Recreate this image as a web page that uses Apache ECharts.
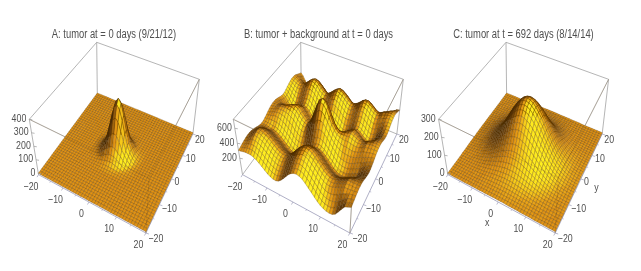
<!DOCTYPE html>
<html><head><meta charset="utf-8">
<style>html,body{margin:0;padding:0;background:#fff}#c{width:641px;height:271px}</style>
<script src="https://cdn.jsdelivr.net/npm/echarts@6/dist/echarts.min.js"></script>
</head><body><div id="c"></div>
<script>
const xyTicks=[-20,-10,0,10,20];
const xyMinorTicks=[-15,-5,5,15];
const zTicksA=[0,100,200,300,400];
const zTicksB=[200,400,600];
const zTicksC=[0,100,200,300];
const titles=["A: tumor at = 0 days (9/21/12)","B: tumor + background at t = 0 days","C: tumor at t = 692 days (8/14/14)"];
// A: heights by distance from the centre, one quadrant (|x| rows, |y| columns)
const tumorA=[
[400,368,287,189,105,60,28,10,3],
[368,339,264,174,97,56,26,9,3],
[287,264,205,136,76,46,20,8,2],
[189,174,136,89,60,34,14,5,2],
[105,97,76,60,38,19,8,3,1],
[60,56,46,34,19,9,4,2,1],
[28,26,20,14,8,4,2,1,0],
[10,9,8,5,3,2,1,0,0],
[3,3,2,2,1,1,0,0,0]];
// C: same layout, one quadrant
const tumorC=[
[300,296,286,270,248,223,196,168,141,115,92,72,55,41,29,21,14,10,7,4,3],
[296,293,283,266,245,220,194,166,139,114,91,71,54,40,29,21,14,10,7,4,3],
[286,283,273,257,237,213,187,160,134,110,88,68,52,39,28,20,14,9,6,4,3],
[270,266,257,242,223,201,176,151,127,103,83,64,49,36,26,19,13,9,6,4,2],
[248,245,237,223,206,185,162,139,117,95,76,59,45,34,24,17,12,8,5,3,2],
[223,220,213,201,185,166,146,125,105,85,68,53,41,30,22,16,11,7,5,3,2],
[196,194,187,176,162,146,128,110,92,75,60,47,36,26,19,14,9,6,4,3,2],
[168,166,160,151,139,125,110,94,79,64,51,40,31,23,16,12,8,6,4,2,2],
[141,139,134,127,117,105,92,79,66,54,43,34,26,19,14,10,7,5,3,2,1],
[115,114,110,103,95,85,75,64,54,44,35,27,21,16,11,8,6,4,3,2,1],
[92,91,88,83,76,68,60,51,43,35,28,22,17,12,9,6,4,3,2,1,1],
[72,71,68,64,59,53,47,40,34,27,22,17,13,10,7,5,3,2,2,1,1],
[55,54,52,49,45,41,36,31,26,21,17,13,10,7,5,4,3,2,1,1,0],
[41,40,39,36,34,30,26,23,19,16,12,10,7,5,4,3,2,1,1,1,0],
[29,29,28,26,24,22,19,16,14,11,9,7,5,4,3,2,1,1,1,0,0],
[21,21,20,19,17,16,14,12,10,8,6,5,4,3,2,1,1,1,0,0,0],
[14,14,14,13,12,11,9,8,7,6,4,3,3,2,1,1,1,0,0,0,0],
[10,10,9,9,8,7,6,6,5,4,3,2,2,1,1,1,0,0,0,0,0],
[7,7,6,6,5,5,4,4,3,3,2,2,1,1,1,0,0,0,0,0,0],
[4,4,4,4,3,3,3,2,2,2,1,1,1,1,0,0,0,0,0,0,0],
[3,3,3,2,2,2,2,2,1,1,1,1,0,0,0,0,0,0,0,0,0]];
// B: rows y=-20..20, columns x=-20..20
const surfaceB=[
[306,312,321,328,330,330,320,300,275,245,215,185,165,152,150,165,195,235,280,325,360,382,390,382,360,325,285,245,205,165,135,115,100,95,100,125,175,235,286,307,326],
[316,326,339,352,360,360,350,330,305,275,245,215,195,182,180,195,225,265,310,355,390,412,420,412,390,355,315,275,235,190,160,140,130,130,145,175,220,265,304,320,336],
[327,339,357,376,390,390,380,360,335,305,275,245,225,212,210,225,255,295,340,385,420,442,450,442,420,385,345,305,265,220,190,175,170,175,190,220,260,295,322,334,347],
[338,352,375,400,420,420,410,390,365,335,305,275,255,242,240,255,285,325,370,415,450,472,480,472,450,415,375,335,295,255,228,215,215,225,245,275,305,322,340,348,358],
[346,364,390,420,445,445,435,415,390,360,330,300,280,267,265,280,310,350,395,440,475,497,505,497,475,440,400,360,320,290,270,265,270,285,305,325,345,350,355,359,366],
[352,370,399,432,460,460,450,430,405,375,345,315,295,282,280,295,325,365,410,455,490,512,520,512,490,455,415,375,335,305,285,280,285,300,320,340,360,362,364,365,372],
[353,373,402,436,465,465,455,435,410,380,350,320,300,287,285,300,330,370,415,460,495,517,525,517,495,460,420,380,340,310,290,285,290,305,325,345,365,366,367,368,373],
[350,368,396,428,455,455,445,425,400,370,340,310,290,277,275,290,320,360,405,450,485,507,515,507,485,450,410,370,330,300,280,275,280,295,315,335,355,358,361,363,370],
[341,357,381,408,430,430,420,400,375,345,315,285,265,252,250,265,295,335,380,425,460,482,490,482,460,425,385,345,305,275,255,250,255,270,290,310,330,338,346,352,361],
[329,341,360,380,395,395,385,365,340,310,280,250,230,217,215,230,260,300,345,390,425,447,455,447,425,390,350,310,270,240,220,215,220,235,255,275,295,310,325,336,349],
[315,323,336,348,355,355,345,325,300,270,240,210,190,177,175,190,220,260,305,350,385,407,415,407,385,350,310,270,230,200,180,175,180,195,215,235,255,278,301,318,335],
[301,305,312,316,315,315,305,285,260,230,200,168,146,131,127,140,168,205,249,293,328,350,359,352,333,300,262,224,186,158,140,135,140,155,175,195,215,246,277,300,321],
[290,292,294,292,285,285,275,255,230,200,170,136,114,98,94,105,133,170,213,257,292,314,323,317,298,265,229,191,154,126,110,105,110,125,145,165,185,222,259,287,310],
[285,285,285,280,270,270,260,240,215,185,155,119,96,80,74,85,112,150,194,238,274,295,304,297,277,245,209,173,136,109,95,90,95,110,130,150,170,210,250,280,305],
[288,290,291,288,280,280,270,250,225,195,165,127,104,86,79,90,118,159,206,254,289,311,316,306,283,250,214,179,144,117,105,100,105,120,140,160,180,218,256,285,308],
[299,303,309,312,310,310,300,280,255,225,195,155,130,112,105,118,150,197,250,303,341,360,360,344,315,278,240,205,170,145,135,130,135,150,170,190,210,242,274,298,319],
[313,321,333,344,350,350,340,320,295,265,235,193,168,149,143,160,200,256,321,382,423,439,431,403,365,320,278,242,208,183,175,170,175,190,210,230,250,274,298,316,333],
[329,338,350,363,374,376,371,358,339,315,288,243,215,194,190,213,262,331,410,480,520,526,501,453,401,351,311,281,255,237,234,228,228,238,253,272,293,310,327,339,350],
[344,352,363,378,393,396,396,390,379,360,335,289,258,235,232,261,322,407,498,578,620,612,570,505,436,379,340,315,298,288,289,280,276,280,291,309,330,342,353,360,364],
[355,362,371,385,401,407,412,412,408,395,373,326,292,267,266,300,369,465,567,655,693,677,619,538,457,396,360,340,332,329,333,322,314,312,319,336,358,365,373,376,376],
[362,366,369,380,395,402,412,420,422,415,395,348,312,285,281,318,390,491,598,685,718,696,631,539,453,393,361,351,352,355,362,350,338,330,332,348,370,377,384,386,382],
[362,362,358,362,374,383,398,413,422,420,402,355,317,286,282,316,385,480,579,660,687,659,592,504,422,370,348,346,357,367,377,363,346,333,331,344,367,377,386,388,382],
[358,351,339,333,337,349,369,390,406,410,395,349,308,275,265,294,355,437,521,588,607,576,514,436,366,326,317,328,348,365,376,360,339,320,314,326,350,364,379,384,378],
[349,335,310,292,286,299,324,352,376,385,373,328,285,248,233,256,305,371,439,490,497,466,413,346,291,268,272,294,325,348,361,343,317,293,282,293,318,340,363,374,369],
[336,315,279,247,230,245,275,310,340,355,345,303,258,217,198,215,255,306,356,392,388,357,311,256,215,205,223,257,298,328,340,320,290,260,245,255,280,312,344,360,356],
[322,298,255,215,190,205,235,270,300,315,305,265,220,180,160,173,205,247,285,313,306,278,240,197,165,163,185,220,260,290,300,280,250,220,205,215,240,280,320,342,342],
[312,284,237,191,160,175,205,240,270,285,275,237,194,154,134,145,173,209,241,264,254,229,196,159,133,135,159,194,234,262,270,250,220,190,175,185,210,256,302,329,332],
[307,277,228,179,145,160,190,225,255,270,260,224,181,143,124,135,162,195,224,243,234,208,179,145,122,125,149,183,221,249,255,235,205,175,160,170,195,244,293,322,327],
[310,282,234,187,155,170,200,235,265,280,270,236,194,156,139,150,178,210,238,257,247,222,193,160,138,140,164,196,234,261,265,245,215,185,170,180,205,252,299,327,330],
[321,295,252,211,185,200,230,265,295,310,300,268,226,189,172,185,213,245,274,293,283,258,229,195,173,175,197,229,266,293,295,275,245,215,200,210,235,276,317,340,341],
[335,313,276,243,225,240,270,305,335,350,340,310,270,235,220,235,265,300,330,350,340,315,285,250,225,225,245,275,310,335,335,315,285,255,240,250,275,308,341,358,355],
[349,331,300,275,265,280,310,345,375,390,380,350,310,275,260,275,305,340,370,390,380,355,325,290,265,265,285,315,350,375,375,355,325,295,280,290,315,340,365,376,369],
[361,347,321,303,300,315,345,380,410,425,415,385,345,310,295,310,340,375,405,425,415,390,360,325,300,300,320,350,385,410,410,390,360,330,315,325,350,368,386,392,381],
[368,356,333,319,320,335,365,400,430,445,435,405,365,330,315,330,360,395,425,445,435,410,380,345,320,320,340,370,405,430,430,410,380,350,335,345,370,384,398,401,388],
[370,358,336,323,325,340,370,405,435,450,440,410,370,335,320,335,365,400,430,450,440,415,385,350,325,325,345,375,410,435,435,415,385,355,340,350,375,388,401,403,390],
[365,352,327,311,310,325,355,390,420,435,425,395,355,320,305,320,350,385,415,435,425,400,370,335,310,310,330,360,395,420,420,400,370,340,325,335,360,376,392,397,385],
[354,338,309,287,280,295,325,360,390,405,395,365,325,290,275,290,320,355,385,405,395,370,340,305,280,280,300,330,365,390,390,370,340,310,295,305,330,352,374,383,374],
[336,316,279,247,230,245,275,310,340,355,345,315,275,240,225,240,270,305,335,355,345,320,290,255,230,230,250,280,315,340,340,320,290,260,245,255,280,312,344,360,356],
[319,293,249,207,180,195,225,260,290,305,295,265,225,190,175,190,220,255,285,305,295,270,240,205,180,180,200,230,265,290,290,270,240,210,195,205,230,272,314,338,339],
[302,270,219,167,130,145,175,210,240,255,245,215,175,140,125,140,170,205,235,255,245,220,190,155,130,130,150,180,215,240,240,220,190,160,145,155,180,232,284,315,322],
[288,252,195,135,90,105,135,170,200,215,205,175,135,100,85,100,130,165,195,215,205,180,150,115,90,90,110,140,175,200,200,180,150,120,105,115,140,200,260,297,307]];

function lookupA(i,j){const a=Math.abs(i-20),b=Math.abs(j-20);return a<tumorA.length&&b<tumorA.length?tumorA[a][b]:0;}
function lookupC(i,j){return tumorC[Math.abs(i-20)][Math.abs(j-20)];}
function lookupB(i,j){return surfaceB[j][i];}

// camera: screen position of the box corners (L=x-,y-  F=x+,y-  R=x+,y+  K=x-,y+)
const baseQuad=[[38.3,173.3],[146,231.7],[193,132.7],[97.3,93]];
const topQuad=[[29.3,119.3],[149,178],[199.3,79.3],[96.7,42.3]];
function homography(q){
  const [p0,p1,p2,p3]=q;
  const dx1=p1[0]-p2[0],dx2=p3[0]-p2[0],sx=p0[0]-p1[0]+p2[0]-p3[0];
  const dy1=p1[1]-p2[1],dy2=p3[1]-p2[1],sy=p0[1]-p1[1]+p2[1]-p3[1];
  const den=dx1*dy2-dx2*dy1;
  const g=(sx*dy2-dx2*sy)/den,h=(dx1*sy-sx*dy1)/den;
  const a=p1[0]-p0[0]+g*p1[0],b=p3[0]-p0[0]+h*p3[0],c=p0[0];
  const d=p1[1]-p0[1]+g*p1[1],e=p3[1]-p0[1]+h*p3[1],f=p0[1];
  return (u,v)=>{const w=g*u+h*v+1;return [(a*u+b*v+c)/w,(d*u+e*v+f)/w];};
}
const hBase=homography(baseQuad),hTop=homography(topQuad);
function project(x,y,w,shift){
  const u=(x+20)/40,v=(y+20)/40,b=hBase(u,v),t=hTop(u,v);
  return [b[0]+(t[0]-b[0])*w+shift,b[1]+(t[1]-b[1])*w];
}
const panels=[
 {shift:0,zMax:400,zTicks:zTicksA,get:lookupA,axisNames:false,titleX:114},
 {shift:204,zMax:720,zTicks:zTicksB,get:lookupB,axisNames:false,titleX:318.5},
 {shift:409.3,zMax:300,zTicks:zTicksC,get:lookupC,axisNames:true,titleX:523.5}
];
const ramp=[[0,[45,26,6]],[0.35,[112,68,14]],[0.55,[175,112,18]],[0.70,[224,146,20]],[0.80,[236,170,24]],[0.92,[250,216,28]],[1,[255,240,32]]];
const LIGHT=[0.55,-0.45,0.70];
function shade(t){
  t=Math.max(0,Math.min(1,t));
  for(let k=1;k<ramp.length;k++){
    if(t<=ramp[k][0]){
      const a=ramp[k-1],b=ramp[k],f=(t-a[0])/(b[0]-a[0]);
      const c=a[1].map((v,m)=>Math.round(v+(b[1][m]-v)*f));
      return 'rgb('+c.join(',')+')';
    }
  }
  return 'rgb(255,240,32)';
}
const cells=[];
for(let i=0;i<40;i++)for(let j=39;j>=0;j--)cells.push([i,j]);

function surfaceSeries(p){
  return {type:'custom',coordinateSystem:'cartesian2d',data:cells,z:3,silent:true,animation:false,progressive:0,clip:false,
    encode:{x:0,y:1},
    renderItem(params,api){
      const i=api.value(0),j=api.value(1);
      const z00=p.get(i,j),z10=p.get(i+1,j),z11=p.get(i+1,j+1),z01=p.get(i,j+1);
      const k=16/p.zMax;
      const dx=((z10+z11)-(z00+z01))/2*k,dy=((z01+z11)-(z00+z10))/2*k;
      const n=Math.sqrt(dx*dx+dy*dy+1);
      const t=(-dx*LIGHT[0]-dy*LIGHT[1]+LIGHT[2])/n;
      const pts=[[i,j,z00],[i+1,j,z10],[i+1,j+1,z11],[i,j+1,z01]].map(c=>api.coord(project(c[0]-20,c[1]-20,c[2]/p.zMax,p.shift)));
      return {type:'polygon',shape:{points:pts},style:{fill:shade(t),stroke:'rgba(90,55,0,0.55)',lineWidth:0.5}};
    }};
}
function seg(api,a,b,color,width){
  const s=api.coord(a),e=api.coord(b);
  return {type:'line',shape:{x1:s[0],y1:s[1],x2:e[0],y2:e[1]},style:{stroke:color,lineWidth:width}};
}
const EDGE='#a2a2a2',AXIS='#9c9cb8',WB=-0.025;
function backBoxSeries(p){
  return {type:'custom',coordinateSystem:'cartesian2d',data:[[0,0]],z:1,silent:true,animation:false,clip:false,encode:{x:0,y:1},
    renderItem(params,api){
      const P=(x,y,w)=>project(x,y,w,p.shift),c=[];
      const corners=[[-20,-20],[20,-20],[20,20],[-20,20]];
      corners.forEach((q,n)=>{
        const r=corners[(n+1)%4];
        c.push(seg(api,P(q[0],q[1],1),P(r[0],r[1],1),EDGE,0.8));
        c.push(seg(api,P(q[0],q[1],WB),P(r[0],r[1],WB),n<2?AXIS:EDGE,0.8));
        c.push(seg(api,P(q[0],q[1],WB),P(q[0],q[1],1),EDGE,0.8));
      });
      return {type:'group',children:c};
    }};
}
const LABEL='#4f4f4f';const FONT='"Liberation Sans",Arial,sans-serif';
const NARROW=0.8,TITLE_NARROW=0.75;
const yTickDx=[10,10,5.5,8,7],yTickDy=[5.5,4.5,3.5,3,6];
function overlaySeries(p,title){
  return {type:'custom',coordinateSystem:'cartesian2d',data:[[0,0]],z:5,silent:true,animation:false,clip:false,encode:{x:0,y:1},
    renderItem(params,api){
      const P=(x,y,w)=>project(x,y,w,p.shift),c=[];
      const txt=(pt,dx,dy,s,align,size,sx)=>{const q=api.coord(pt);c.push({type:'text',x:q[0]+dx,y:q[1]+dy,scaleX:sx||NARROW,style:{text:s,x:0,y:0,fill:LABEL,font:(size||11)+'px '+FONT,align:align||'center',verticalAlign:'middle'}});};
      const faint='rgba(120,85,30,0.28)';
      c.push(seg(api,P(-20,-20,1),P(20,-20,1),faint,0.7));
      c.push(seg(api,P(20,-20,1),P(20,20,1),faint,0.7));
      c.push(seg(api,P(20,-20,WB),P(20,-20,1),faint,0.7));
      xyTicks.forEach((t,n)=>{
        const s=String(t).replace('-','\u2212');
        let a=P(t,-20,WB);
        c.push(seg(api,a,[a[0]-1.5,a[1]+2.5],AXIS,0.7));
        txt(a,-7.5,12,s);
        a=P(20,t,WB);
        c.push(seg(api,a,[a[0]+3,a[1]+1],AXIS,0.7));
        txt(a,yTickDx[n],yTickDy[n],s);
      });
      xyMinorTicks.forEach(t=>{
        let a=P(t,-20,WB);
        c.push(seg(api,a,[a[0]-0.8,a[1]+1.5],AXIS,0.6));
        a=P(20,t,WB);
        c.push(seg(api,a,[a[0]+1.6,a[1]+0.5],AXIS,0.6));
      });
      p.zTicks.forEach(t=>{
        const a=P(-20,-20,t/p.zMax);
        c.push(seg(api,a,[a[0]+3,a[1]+0.5],'#999',0.7));
        txt(a,-3,-0.5,String(t),'right');
      });
      if(p.axisNames){
        txt(P(0,-20,0),-11,22,'x');
        txt(P(20,0,0),15.5,10.4,'y');
      }
      txt([p.titleX,34.5],0,0,title,'center',12.5,TITLE_NARROW);
      return {type:'group',children:c};
    }};
}
const series=[];
panels.forEach((p,n)=>{series.push(backBoxSeries(p),surfaceSeries(p),overlaySeries(p,titles[n]));});
const chart=echarts.init(document.getElementById('c'),null,{renderer:'canvas',width:641,height:271});
chart.setOption({
  animation:false,backgroundColor:'#fff',
  grid:{left:0,right:0,top:0,bottom:0,containLabel:false},
  xAxis:{type:'value',min:0,max:641,show:false},
  yAxis:{type:'value',min:0,max:271,inverse:true,show:false},
  series
});
</script></body></html>
